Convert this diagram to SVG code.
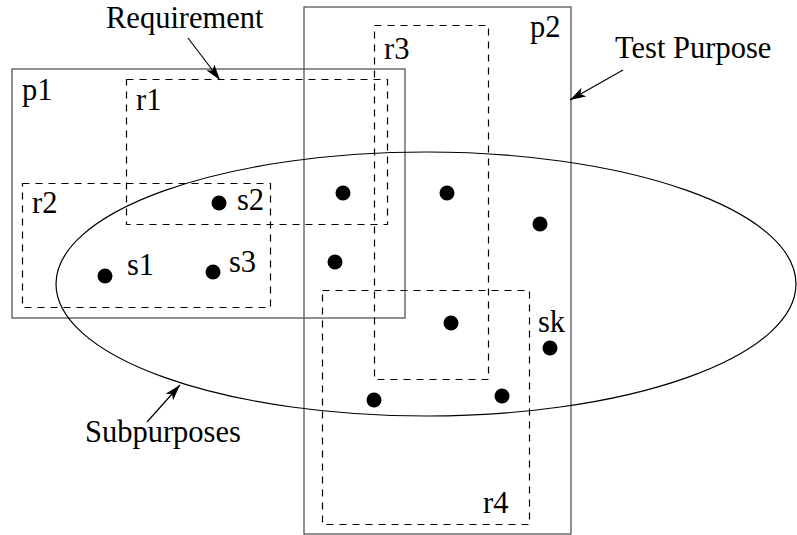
<svg xmlns="http://www.w3.org/2000/svg" width="797" height="535" viewBox="0 0 797 535">
<defs>
<style>
.solid{fill:none;stroke:#555;stroke-width:1.3}
.dash{fill:none;stroke:#000;stroke-width:1.2;stroke-dasharray:7 6}
.ell{fill:none;stroke:#000;stroke-width:1.2}
.dot{fill:#000}
.lbl{font-family:"Liberation Serif","Times New Roman",serif;font-size:30.5px;fill:#000}
.arr{stroke:#000;stroke-width:1.2;fill:none;marker-end:url(#ah)}
</style>
<marker id="ah" markerUnits="userSpaceOnUse" markerWidth="18" markerHeight="12" refX="16" refY="5" orient="auto">
<path d="M0,0 L16,5 L0,10 L4,5 Z" fill="#000"/>
</marker>
</defs>
<rect width="797" height="535" fill="#fff"/>
<g id="p1"><rect class="solid" x="12" y="69" width="393" height="249"/><text class="lbl" x="22" y="100">p1</text></g>
<g id="p2"><rect class="solid" x="304" y="7" width="267" height="527"/><text class="lbl" x="530" y="37">p2</text></g>
<g id="r1"><rect class="dash" x="126.5" y="79.5" width="261" height="145"/><text class="lbl" x="136" y="110">r1</text></g>
<g id="r2"><rect class="dash" x="22.5" y="183.5" width="248" height="124"/><text class="lbl" x="32" y="213">r2</text></g>
<g id="r3"><rect class="dash" x="374.5" y="25.5" width="114" height="354"/><text class="lbl" x="384" y="59">r3</text></g>
<g id="r4"><rect class="dash" x="322.5" y="290.5" width="207" height="234"/><text class="lbl" x="483" y="513">r4</text></g>
<g id="subpurposes-ellipse"><ellipse class="ell" cx="426" cy="284" rx="370" ry="132"/></g>
<g id="states">
<circle class="dot" cx="105" cy="276" r="7.5"/><text class="lbl" x="127" y="275">s1</text>
<circle class="dot" cx="219" cy="203" r="7.5"/><text class="lbl" x="237" y="210">s2</text>
<circle class="dot" cx="213" cy="272" r="7.5"/><text class="lbl" x="229" y="272">s3</text>
<circle class="dot" cx="343" cy="193" r="7.5"/>
<circle class="dot" cx="447" cy="193" r="7.5"/>
<circle class="dot" cx="540" cy="224" r="7.5"/>
<circle class="dot" cx="335" cy="262" r="7.5"/>
<circle class="dot" cx="451" cy="323" r="7.5"/>
<circle class="dot" cx="550" cy="348" r="7.5"/><text class="lbl" x="538" y="332">sk</text>
<circle class="dot" cx="502" cy="396" r="7.5"/>
<circle class="dot" cx="374" cy="400" r="7.5"/>
</g>
<g id="labels">
<text class="lbl" x="106" y="28">Requirement</text>
<text class="lbl" x="615" y="58">Test Purpose</text>
<text class="lbl" x="85" y="442">Subpurposes</text>
</g>
<g id="connectors">
<line class="arr" x1="188" y1="38" x2="220" y2="80"/>
<line class="arr" x1="623" y1="70" x2="570" y2="100"/>
<line class="arr" x1="147" y1="422" x2="180" y2="385"/>
</g>
</svg>
